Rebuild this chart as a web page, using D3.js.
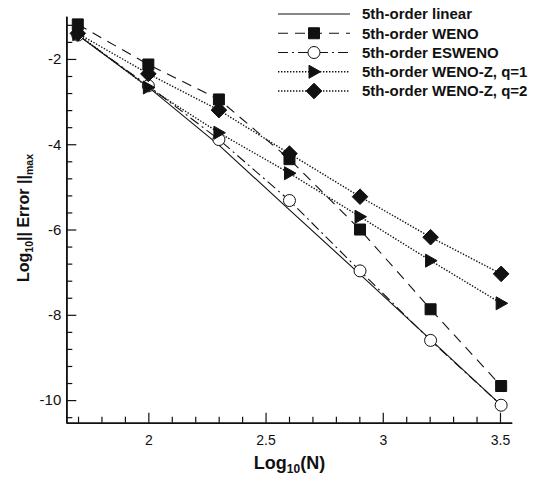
<!DOCTYPE html>
<html><head><meta charset="utf-8">
<script src="https://cdn.jsdelivr.net/npm/d3@7"></script>
<style>body{margin:0;background:#fff} svg{display:block}</style>
</head><body><svg id="c" width="538" height="478"></svg>
<script>
// ---- data ----
const logN = [1.699, 2.0, 2.301, 2.602, 2.903, 3.204, 3.505];
const linear5 = [-1.44, -2.66, -4.02, -5.54, -7.05, -8.58, -10.12];
const weno5 = [-1.19, -2.13, -2.95, -4.35, -6.00, -7.87, -9.67];
const esweno5 = [-1.44, -2.63, -3.89, -5.32, -6.97, -8.60, -10.12];
const wenoZq1 = [-1.42, -2.67, -3.73, -4.68, -5.70, -6.73, -7.73];
const wenoZq2 = [-1.40, -2.35, -3.20, -4.22, -5.23, -6.18, -7.04];
const seriesNames = ["5th-order linear", "5th-order WENO", "5th-order ESWENO", "5th-order WENO-Z, q=1", "5th-order WENO-Z, q=2"];
const xTickValues = [2, 2.5, 3, 3.5];
const xTickLabels = ["2", "2.5", "3", "3.5"];
const yTickValues = [-2, -4, -6, -8, -10];
const yTickLabels = ["-2", "-4", "-6", "-8", "-10"];

const series = [
  {name: seriesNames[0], values: linear5, dash: null, marker: null},
  {name: seriesNames[1], values: weno5, dash: "10,7", marker: "square"},
  {name: seriesNames[2], values: esweno5, dash: "10,4,2,4", marker: "circle"},
  {name: seriesNames[3], values: wenoZq1, dash: "1.4,1.6", marker: "triangle"},
  {name: seriesNames[4], values: wenoZq2, dash: "1.4,1.6", marker: "diamond"}
];

const ink = "#111";
const font = "'Liberation Sans', Arial, Helvetica, sans-serif";
const svg = d3.select("#c");

const x = d3.scaleLinear().domain([1.65, 3.55]).range([66.3, 511.7]);
const y = d3.scaleLinear().domain([-10.53, -1.0]).range([422.7, 16.3]);

// axes
const xMinor = d3.range(1.7, 3.55, 0.1).filter(v => !xTickValues.some(t => Math.abs(t - v) < 1e-6));
const yMinor = d3.range(-1.2, -10.5, -0.4).filter(v => !yTickValues.some(t => Math.abs(t - v) < 1e-6));

const gxMinor = svg.append("g").attr("transform", `translate(0,${y.range()[0]})`)
  .call(d3.axisBottom(x).tickValues(xMinor).tickSizeInner(-6).tickSizeOuter(0).tickFormat(""));
const gx = svg.append("g").attr("transform", `translate(0,${y.range()[0]})`)
  .call(d3.axisBottom(x).tickValues(xTickValues).tickSizeInner(-10).tickSizeOuter(0).tickPadding(8)
    .tickFormat((d, i) => xTickLabels[i]));
const gyMinor = svg.append("g").attr("transform", `translate(${x.range()[0]},0)`)
  .call(d3.axisLeft(y).tickValues(yMinor).tickSizeInner(-6).tickSizeOuter(0).tickFormat(""));
const gy = svg.append("g").attr("transform", `translate(${x.range()[0]},0)`)
  .call(d3.axisLeft(y).tickValues(yTickValues).tickSizeInner(-10).tickSizeOuter(0).tickPadding(5)
    .tickFormat((d, i) => yTickLabels[i]));

[gx, gy, gxMinor, gyMinor].forEach(g => {
  g.selectAll("path.domain").attr("stroke", ink).attr("stroke-width", 1.6);
  g.selectAll(".tick line").attr("stroke", ink).attr("stroke-width", 1.2);
  g.selectAll("text").attr("fill", ink).style("font-family", font).style("font-size", "14px");
});
gy.selectAll("text").style("font-size", "15px");
gx.selectAll("text").attr("dy", "1em");

// axis titles
const xt = svg.append("text").attr("x", 289.5).attr("y", 469).attr("text-anchor", "middle")
  .attr("fill", ink).style("font-family", font).style("font-size", "18px").style("font-weight", "bold");
xt.append("tspan").text("Log");
xt.append("tspan").text("10").style("font-size", "12px").attr("dy", 3.5);
xt.append("tspan").text("(N)").attr("dy", -3.5);

const yt = svg.append("text").attr("transform", "translate(29,218) rotate(-90)").attr("text-anchor", "middle")
  .attr("fill", ink).style("font-family", font).style("font-size", "16px").style("font-weight", "bold");
yt.append("tspan").text("Log");
yt.append("tspan").text("10").style("font-size", "10.5px").attr("dy", 4);
yt.append("tspan").text("|| Error ||").attr("dy", -4);
yt.append("tspan").text("max").style("font-size", "10.5px").attr("dy", 4);

// marker paths
function markerPath(type) {
  switch (type) {
    case "square": return "M-5.5,-5.5H5.5V5.5H-5.5Z";
    case "circle": return d3.arc()({innerRadius: 0, outerRadius: 6, startAngle: 0, endAngle: 2 * Math.PI});
    case "triangle": return "M-5,-6.5L6.5,0L-5,6.5Z";
    case "diamond": return "M0,-7.8L7.8,0L0,7.8L-7.8,0Z";
  }
  return null;
}
function drawMarker(g, type, cx, cy) {
  if (!type) return;
  g.append("path").attr("d", markerPath(type)).attr("transform", `translate(${cx},${cy})`)
    .attr("fill", type === "circle" ? "#fff" : ink).attr("stroke", ink).attr("stroke-width", 1);
}

const line = d3.line().x((d, i) => x(logN[i])).y(d => y(d));
const plot = svg.append("g");
series.forEach(s => {
  plot.append("path").attr("d", line(s.values)).attr("fill", "none").attr("stroke", ink)
    .attr("stroke-width", s.dash && s.dash.startsWith("1.4") ? 1.4 : 1.1)
    .attr("stroke-dasharray", s.dash);
});
series.forEach(s => {
  s.values.forEach((v, i) => drawMarker(plot, s.marker, x(logN[i]), y(v)));
});

// legend
const lg = svg.append("g");
series.forEach((s, i) => {
  const ly = 14 + i * 19.25;
  lg.append("line").attr("x1", 278).attr("x2", 350).attr("y1", ly).attr("y2", ly)
    .attr("stroke", ink).attr("stroke-width", s.dash && s.dash.startsWith("1.4") ? 1.4 : 1.1)
    .attr("stroke-dasharray", s.dash);
  drawMarker(lg, s.marker, 314, ly);
  lg.append("text").attr("x", 362).attr("y", ly).attr("dy", "0.36em").text(s.name)
    .attr("fill", ink).style("font-family", font).style("font-size", "15px").style("font-weight", "bold");
});
</script></body></html>
